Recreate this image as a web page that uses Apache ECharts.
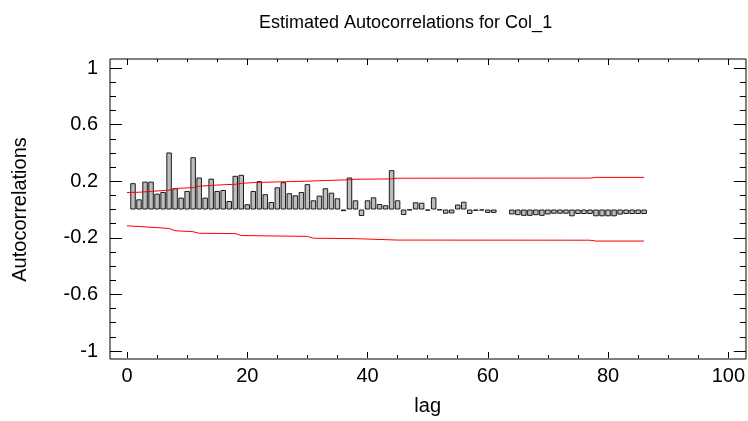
<!DOCTYPE html>
<html>
<head>
<meta charset="utf-8">
<script src="https://cdn.jsdelivr.net/npm/echarts@6/dist/echarts.min.js"></script>
<style>
  html, body { margin: 0; padding: 0; background: #fff; }
  #main { width: 748px; height: 421px; }
</style>
</head>
<body>
<div id="main"></div>
<script>
// lags 1..86, estimated autocorrelations
var lags = [];
for (var i = 1; i <= 86; i++) lags.push(i);
var acf = [
  0.186, 0.072, 0.197, 0.197, 0.112, 0.124, 0.403, 0.150, 0.084, 0.131,
  0.370, 0.226, 0.084, 0.218, 0.131, 0.138, 0.060, 0.238, 0.245, 0.037,
  0.131, 0.200, 0.108, 0.053, 0.157, 0.193, 0.115, 0.100, 0.124, 0.179,
  0.065, 0.098, 0.150, 0.119, 0.079, -0.012, 0.226, 0.065, -0.046, 0.065,
  0.086, 0.039, 0.030, 0.278, 0.065, -0.039, -0.005, 0.051, 0.048, -0.008,
  0.086, -0.004, -0.030, -0.028, 0.035, 0.055, -0.032, -0.010, -0.007, -0.024,
  -0.024, null, null, -0.035, -0.040, -0.045, -0.045, -0.040, -0.045, -0.035,
  -0.030, -0.030, -0.030, -0.048, -0.032, -0.032, -0.032, -0.048, -0.048, -0.048,
  -0.048, -0.036, -0.032, -0.032, -0.032, -0.032
];
// probability limits, [lag, value] break points
var upperLimit = [
  [0, 0.120], [2, 0.122], [4, 0.128], [6, 0.134], [7, 0.137], [8, 0.148],
  [11, 0.155], [12, 0.165], [14, 0.170], [16, 0.175], [18, 0.178], [19, 0.185],
  [21, 0.190], [25, 0.195], [30, 0.200], [33, 0.205], [37, 0.210], [38, 0.214],
  [44, 0.216], [45, 0.221], [77, 0.222], [78, 0.227], [86, 0.227]
];
var lowerLimit = [
  [0, -0.115], [5, -0.128], [7, -0.134], [8, -0.150], [11, -0.157], [12, -0.168],
  [18, -0.170], [19, -0.184], [30, -0.190], [31, -0.203], [38, -0.206], [45, -0.216],
  [77, -0.217], [78, -0.223], [86, -0.223]
];
var xTicks = [0, 20, 40, 60, 80, 100];
var yTicks = [-1, -0.6, -0.2, 0.2, 0.6, 1];

var barData = [];
for (var i = 0; i < lags.length; i++) barData.push([lags[i], acf[i]]);

var font = 'Liberation Sans, Arial, sans-serif';
var tickStyle = {color: '#000', width: 1};

var myChart = echarts.init(document.getElementById('main'), null, {renderer: 'canvas'});
var option = {
  backgroundColor: '#fff',
  animation: false,
  title: {
    text: 'Estimated Autocorrelations for Col_1',
    left: 254,
    top: 9,
    textStyle: {fontFamily: font, fontSize: 18, fontWeight: 'normal', color: '#000'}
  },
  grid: [
    {left: 127, top: 68, width: 601.5, height: 284},
    {left: 110, top: 59, width: 636, height: 300, show: true, borderColor: '#000', borderWidth: 1, backgroundColor: 'transparent'}
  ],
  xAxis: [
    {
      type: 'value', gridIndex: 0, position: 'bottom', offset: 7,
      min: xTicks[0], max: xTicks[xTicks.length - 1], interval: 20,
      name: 'lag', nameLocation: 'middle', nameGap: 38,
      nameTextStyle: {fontFamily: font, fontSize: 20, color: '#000'},
      axisLine: {show: false, onZero: false},
      axisTick: {show: true, inside: true, length: 6, lineStyle: tickStyle},
      minorTick: {show: true, splitNumber: 4, length: 3, lineStyle: tickStyle},
      axisLabel: {fontFamily: font, fontSize: 20, color: '#000', margin: 8},
      splitLine: {show: false}
    },
    {
      type: 'value', gridIndex: 0, position: 'top', offset: 9,
      min: xTicks[0], max: xTicks[xTicks.length - 1], interval: 20,
      axisLine: {show: false, onZero: false},
      axisTick: {show: true, inside: true, length: 6, lineStyle: tickStyle},
      minorTick: {show: true, splitNumber: 4, length: 3, lineStyle: tickStyle},
      axisLabel: {show: false},
      splitLine: {show: false}
    },
    {type: 'value', gridIndex: 1, show: false}
  ],
  yAxis: [
    {
      type: 'value', gridIndex: 0, position: 'left', offset: 17,
      min: yTicks[0], max: yTicks[yTicks.length - 1], interval: 0.4,
      name: 'Autocorrelations', nameLocation: 'middle', nameGap: 80,
      nameTextStyle: {fontFamily: font, fontSize: 20, color: '#000'},
      axisLine: {show: false, onZero: false},
      axisTick: {show: true, inside: true, length: 12, lineStyle: tickStyle},
      minorTick: {show: true, splitNumber: 4, length: 6, lineStyle: tickStyle},
      axisLabel: {fontFamily: font, fontSize: 20, color: '#000', margin: 12},
      splitLine: {show: false}
    },
    {
      type: 'value', gridIndex: 0, position: 'right', offset: 17.5,
      min: yTicks[0], max: yTicks[yTicks.length - 1], interval: 0.4,
      axisLine: {show: false, onZero: false},
      axisTick: {show: true, inside: true, length: 12, lineStyle: tickStyle},
      minorTick: {show: true, splitNumber: 4, length: 6, lineStyle: tickStyle},
      axisLabel: {show: false},
      splitLine: {show: false}
    },
    {type: 'value', gridIndex: 1, show: false}
  ],
  series: [
    {
      type: 'bar', xAxisIndex: 0, yAxisIndex: 0,
      data: barData,
      barWidth: 5.5,
      itemStyle: {color: '#bdbdbd', borderColor: '#1a1a1a', borderWidth: 1}
    },
    {
      type: 'line', xAxisIndex: 0, yAxisIndex: 0,
      data: upperLimit, showSymbol: false,
      lineStyle: {color: '#ff0000', width: 1}
    },
    {
      type: 'line', xAxisIndex: 0, yAxisIndex: 0,
      data: lowerLimit, showSymbol: false,
      lineStyle: {color: '#ff0000', width: 1}
    }
  ]
};
myChart.setOption(option);
window.onresize = myChart.resize;
</script>
</body>
</html>
